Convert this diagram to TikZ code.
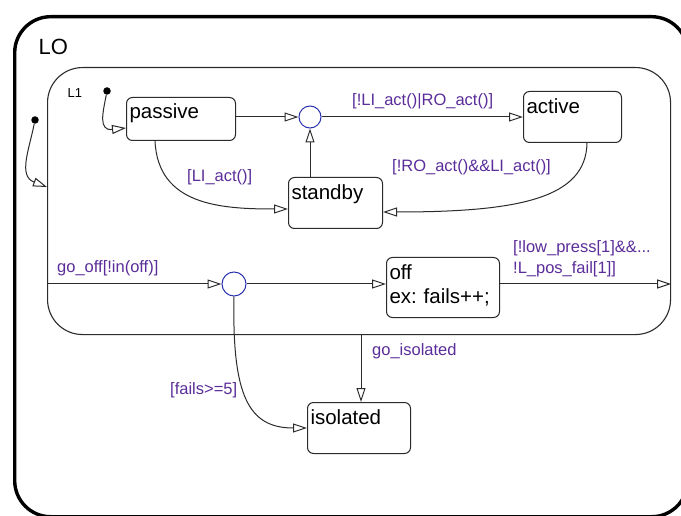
\documentclass[tikz,border=0pt]{standalone}
\usepackage{fontspec}
\setmainfont{Liberation Sans}
\usetikzlibrary{arrows.meta}
\definecolor{guard}{HTML}{5B2D9A}
\definecolor{junc}{HTML}{2C33B0}
\definecolor{edge}{HTML}{2B2B2B}
\frenchspacing

\begin{document}
\begin{tikzpicture}[x=1pt,y=-1pt,
  chart/.style={draw=black, line width=3.4pt, rounded corners=36pt, anchor=north west,
    align=left, inner ysep=0pt},
  sub/.style={draw=edge, line width=1.1pt, rounded corners=35pt, anchor=north west,
    align=left, inner ysep=0pt},
  state/.style={draw=edge, line width=1pt, rounded corners=6pt, anchor=north west,
    align=left, inner xsep=3pt, inner ysep=0pt, font=\fontsize{20.5}{24}\selectfont},
  junction/.style={circle, draw=junc, line width=1pt, inner sep=0pt},
  dot/.style={circle, fill=black, inner sep=0pt, minimum size=7.5pt},
  guardtxt/.style={text=guard, font=\fontsize{16.5}{21}\selectfont, inner sep=0pt,
    anchor=west, align=left},
  trans/.style={draw=edge, line width=1pt, -{Triangle[open,length=14pt,width=9pt]}},
]
\clip (0,0) rectangle (681,516);
\fill[white] (0,0) rectangle (681,516);

% superstate LO and substate L1
\node[chart, text width=625pt, inner xsep=24pt, text height=38pt, text depth=462pt,
  font=\fontsize{22}{26}\selectfont] (LO) at (13,15) {LO};
\node[sub, text width=583pt, inner xsep=20pt, text height=30pt, text depth=237pt,
  font=\fontsize{13}{16}\selectfont] (L1) at (47,67) {L1};

% states
\node[state, text width=103pt, text height=21pt, text depth=22pt] (passive) at (126,97) {passive};
\node[state, text width=92pt, text height=22pt, text depth=29pt] (active) at (523,91) {active};
\node[state, text width=88pt, text height=22pt, text depth=29pt] (standby) at (288,177) {standby};
\node[state, text width=107pt, text height=22pt, text depth=38pt] (off) at (386,257) {off\\ex: fails++;};
\node[state, text width=97pt, text height=22pt, text depth=29pt] (isolated) at (307,402) {isolated};

% junctions and default-transition dots
\node[junction, minimum size=22pt] (j1) at (310,117) {};
\node[junction, minimum size=24pt] (j2) at (234,284) {};
\node[dot] (d0) at (35,120) {};
\node[dot] (d1) at (107,91) {};

% transitions
\draw[trans] (d0) .. controls (29,150) and (18,176) .. (L1.west |- 0,187);
\draw[trans] (d1) .. controls (103,112) and (98,131) .. (passive.west |- 0,128);
\draw[trans] (passive.east |- j1) -- (j1.west);
\draw[trans] (j1 |- standby.north) -- (j1.south);
\draw[trans] (j1.east) -- (active.west |- j1);
\draw[trans] (active.south -| 587,0) .. controls (586,198) and (520,212) .. (standby.east |- 0,212);
\draw[trans] (passive.south -| 155,0) .. controls (158,205) and (220,209) .. (standby.west |- 0,209);
\draw[trans] (L1.west |- j2) -- (j2.west);
\draw[trans] (j2.east) -- (off.west |- j2);
\draw[trans] (off.east |- j2) -- (L1.east |- j2);
\draw[trans] (L1.south -| 361,0) -- (isolated.north -| 361,0);
\draw[trans] (j2.south) .. controls (232,395) and (248,428) .. (isolated.west);

% guards and events
\node[guardtxt] (g1) at (352,101) {[!LI\_act()|RO\_act()]};
\node[guardtxt] (g2) at (392,167) {[!RO\_act()\&\&LI\_act()]};
\node[guardtxt] (g3) at (187,177) {[LI\_act()]};
\node[guardtxt] (g4) at (57,268) {go\_off[!in(off)]};
\node[guardtxt] (g5) at (513,258.5) {[!low\_press[1]\&\&...\\!L\_pos\_fail[1]]};
\node[guardtxt] (g6) at (372,351) {go\_isolated};
\node[guardtxt] (g7) at (170,390) {[fails>=5]};
\end{tikzpicture}
\end{document}
